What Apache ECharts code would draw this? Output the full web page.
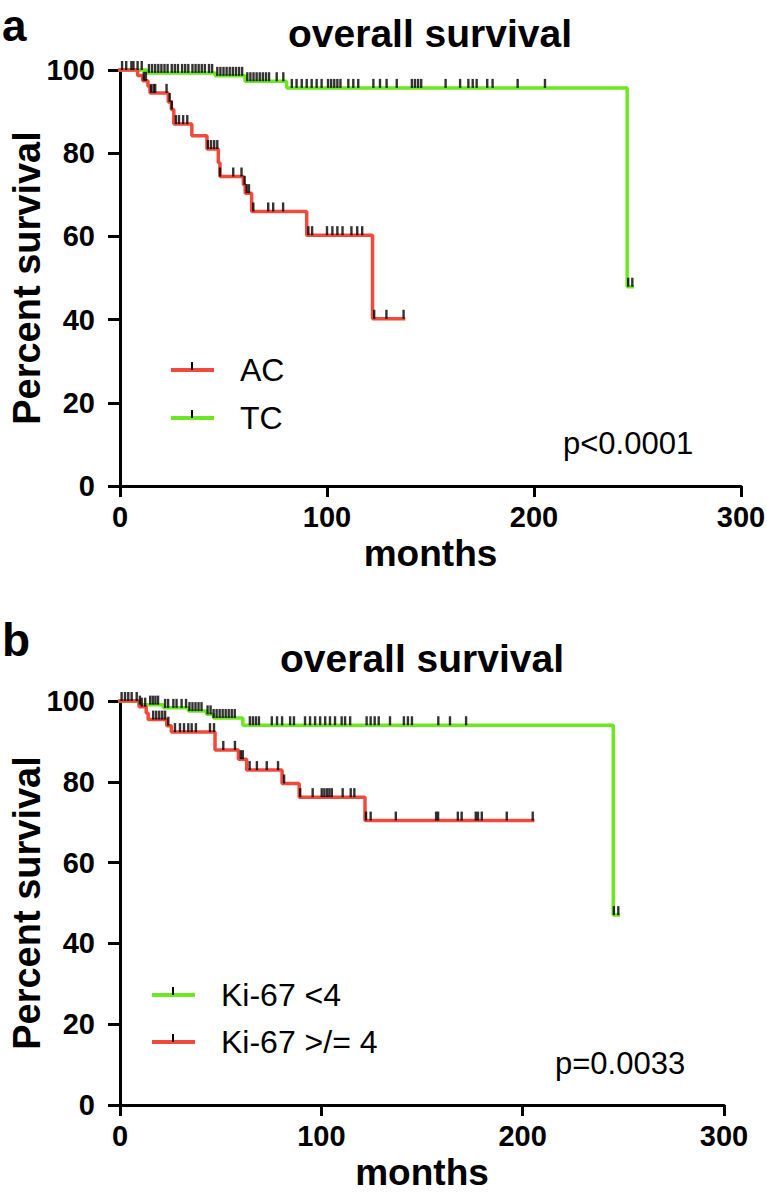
<!DOCTYPE html>
<html>
<head>
<meta charset="utf-8">
<script src="https://cdn.jsdelivr.net/npm/echarts@6/dist/echarts.min.js"></script>
<style>
html,body{margin:0;padding:0;background:#fff;}
#chart{width:767px;height:1194px;}
</style>
</head>
<body>
<div id="chart"></div>
<script>
// ---------- DATA ----------
const xTicks = [0, 100, 200, 300];
const yTicks = [0, 20, 40, 60, 80, 100];

// Panel a: AC (red)
const acTimes = [0, 8.5, 11, 13.5, 14.5, 23.3, 24.8, 26, 34.7, 42, 47.5, 48.3, 59.6, 60.5, 63.6, 90.2, 122, 137];
const acSurv  = [100, 98.7, 97.4, 96.1, 94.5, 92.3, 90.5, 87.0, 84.2, 81.0, 77.7, 74.4, 72.4, 70.4, 66.0, 60.3, 40.2, 40.2];
const acCensor = [11.5, 12.5, 15, 16.2, 17, 22.5, 24, 25, 27, 28.5, 30.5, 32.5, 42.5, 44, 45.5, 47, 48.3, 54.7, 58.7, 60.2, 61.2, 62.3, 64.4, 71.6, 74, 78.8, 91, 92.8, 100, 102.6, 105, 107.5, 111.8, 114.6, 117, 122.8, 128.7, 137];

// Panel a: TC (green)
const tcTimes = [0, 13, 46, 60.4, 80.5, 245, 247.5];
const tcSurv  = [100, 99.3, 98.6, 97.3, 95.7, 47.9, 47.9];
const tcCensor = [1, 3, 5.5, 6.5, 8.5, 10.5,
  14, 15.5, 17, 18.5, 20, 21.5, 23, 25, 26.5, 28, 30, 31.5, 33, 35, 36.5, 38, 39.5, 41, 43, 44.5,
  47, 48.5, 50, 51.5, 53, 54.5, 56, 57.5, 59,
  61.5, 63, 64.5, 66, 67.5, 69, 70.5, 72, 75.7, 78.9,
  83, 85.3, 87.8, 90.2, 92.6, 95, 97.4, 100.5, 102, 103.5, 105, 106.5,
  110.3, 112.7, 115.1, 122.4, 125.6, 128.8, 133.7, 141, 142.5, 144, 145.5,
  157.3, 164.3, 168.3, 170.4, 172.3, 177.4, 180, 192.1, 205.3, 245.5, 247.5];

// Panel b: Ki-67 <4 (green)
const kiLowTimes = [0, 9.5, 21.5, 34, 43, 46.5, 61, 245, 247.5];
const kiLowSurv  = [100, 99.1, 98.3, 97.5, 96.7, 95.8, 94.0, 47.0, 47.0];
const kiLowCensor = [0.8, 2.5, 4.1, 5.8, 8.3, 9.9, 15, 16.3, 17.6, 18.9, 22.4, 23.9,
  26.5, 28.1, 30.6, 32.8, 34.5, 36, 37.5, 39, 40.5,
  43.5, 45, 46.5, 48, 49.5, 51, 52.5, 54, 55.5, 57,
  64.5, 66, 67.5, 69, 75.4, 78, 80.5, 84.5, 86.4,
  91.9, 94.4, 96.9, 99.4, 101.9, 104.3, 106.8, 110.1, 111.8, 114.3,
  122.5, 124.5, 126.5, 128.5, 134.1, 141, 143, 145, 158.1, 163.9, 171.9, 245.3, 247.5];

// Panel b: Ki-67 >/= 4 (red)
const kiHighTimes = [0, 9.5, 13, 14, 23.2, 25.5, 47.2, 58.8, 62.9, 80.5, 89, 121.7, 205];
const kiHighSurv  = [100, 98.6, 97.0, 95.4, 93.9, 92.3, 87.9, 85.6, 82.9, 79.6, 76.2, 70.4, 70.4];
const kiHighCensor = [10.8, 12.5, 16.5, 18, 19.5, 21, 22.4, 24, 27.3, 29.8, 31.8, 33.9, 35.6, 37.7,
  44.7, 46.7, 51.3, 57.1, 60, 61, 64.4, 68, 72.9, 78.5, 81.5,
  89.5, 95.7, 100.2, 101.5, 102.8, 104, 105.2, 110.6, 114.6, 116.4,
  122.2, 124.5, 137, 157, 158, 167.8, 169.7, 176.7, 177.8, 179.7, 192.1, 205];

// ---------- STYLE ----------
const RED = '#EF4A3C';
const GREEN = '#6CE81E';
const FONT = '"Liberation Sans", Arial, sans-serif';

function survAt(times, surv, t) {
  let v = surv[0];
  for (let i = 0; i < times.length; i++) { if (times[i] <= t) v = surv[i]; }
  return v;
}
function curve(times, surv) { return times.map((t, i) => [t, surv[i]]); }
function ticks(times, surv, cens) { return cens.map(t => [t, survAt(times, surv, t)]); }

function xAxisCfg(gi) {
  return {
    gridIndex: gi, type: 'value', min: 0, max: 300, interval: 100,
    name: 'months', nameLocation: 'middle', nameGap: 52, nameMoveOverlap: false,
    nameTextStyle: { fontFamily: FONT, fontWeight: 'bold', fontSize: 37, lineHeight: 30, color: '#000' },
    axisLine: { show: true, onZero: false, lineStyle: { color: '#000', width: 3 } },
    axisTick: { show: true, length: 11, lineStyle: { color: '#000', width: 3 } },
    axisLabel: { fontFamily: FONT, fontWeight: 'bold', fontSize: 29, color: '#000', margin: 16 },
    splitLine: { show: false }
  };
}
function yAxisCfg(gi) {
  return {
    gridIndex: gi, type: 'value', min: 0, max: 100, interval: 20,
    name: 'Percent survival', nameLocation: 'middle', nameGap: 76, nameRotate: 90, nameMoveOverlap: false,
    nameTextStyle: { fontFamily: FONT, fontWeight: 'bold', fontSize: 38, lineHeight: 34, color: '#000' },
    axisLine: { show: true, lineStyle: { color: '#000', width: 3 } },
    axisTick: { show: true, length: 12, lineStyle: { color: '#000', width: 3 } },
    axisLabel: { fontFamily: FONT, fontWeight: 'bold', fontSize: 29, color: '#000', margin: 25 },
    splitLine: { show: false }
  };
}
function lineSeries(name, gi, data, color) {
  return {
    name, type: 'line', xAxisIndex: gi, yAxisIndex: gi, step: 'end', data,
    showSymbol: false, symbol: 'none', clip: false,
    lineStyle: { color, width: 3.5, cap: 'square' }, itemStyle: { color }, z: 2
  };
}
function tickSeries(name, gi, data) {
  return {
    name, type: 'scatter', xAxisIndex: gi, yAxisIndex: gi, data, clip: false,
    symbol: 'rect', symbolSize: [2.4, 9], symbolOffset: [0, -4.5],
    itemStyle: { color: '#000' }, z: 5, silent: true
  };
}

const chart = echarts.init(document.getElementById('chart'), null, { renderer: 'svg', width: 767, height: 1194 });

function txt(text, x, y, size, weight, align, lh) {
  const st = {
    text, fill: '#000', fontFamily: FONT, fontSize: size, fontWeight: weight || 'normal',
    align: align || 'left', verticalAlign: 'middle' };
  if (lh) st.lineHeight = lh;
  return { type: 'text', x, y, z: 100, style: st };
}
function legendItem(x, y, color, label) {
  return [
    { type: 'line', z: 100, shape: { x1: x, y1: y, x2: x + 43, y2: y }, style: { stroke: color, lineWidth: 4 } },
    { type: 'rect', z: 101, shape: { x: x + 20, y: y - 8, width: 2, height: 8 }, style: { fill: '#000' } },
    txt(label, x + 69, y, 32, 'normal', 'left')
  ];
}

const option = {
  animation: false,
  backgroundColor: '#fff',
  grid: [
    { left: 120, width: 621, top: 70, height: 416, containLabel: false, outerBoundsMode: 'none' },
    { left: 120, width: 604, top: 701, height: 404, containLabel: false, outerBoundsMode: 'none' }
  ],
  xAxis: [xAxisCfg(0), xAxisCfg(1)],
  yAxis: [yAxisCfg(0), yAxisCfg(1)],
  series: [
    lineSeries('TC', 0, curve(tcTimes, tcSurv), GREEN),
    lineSeries('AC', 0, curve(acTimes, acSurv), RED),
    tickSeries('TC censored', 0, ticks(tcTimes, tcSurv, tcCensor)),
    tickSeries('AC censored', 0, ticks(acTimes, acSurv, acCensor)),
    lineSeries('Ki-67 <4', 1, curve(kiLowTimes, kiLowSurv), GREEN),
    lineSeries('Ki-67 >/= 4', 1, curve(kiHighTimes, kiHighSurv), RED),
    tickSeries('Ki-67 <4 censored', 1, ticks(kiLowTimes, kiLowSurv, kiLowCensor)),
    tickSeries('Ki-67 >/= 4 censored', 1, ticks(kiHighTimes, kiHighSurv, kiHighCensor))
  ],
  graphic: [
    txt('a', 2, 25, 44, 'bold', 'left'),
    txt('overall survival', 430, 33, 39, 'bold', 'center'),
    ...legendItem(171, 370, RED, 'AC'),
    ...legendItem(171, 418, GREEN, 'TC'),
    txt('p<0.0001', 563, 443, 31, 'normal', 'left'),
    txt('b', 2, 640, 46, 'bold', 'left'),
    txt('overall survival', 422, 658, 39, 'bold', 'center'),
    ...legendItem(152, 995, GREEN, 'Ki-67 <4'),
    ...legendItem(152, 1042, RED, 'Ki-67 >/= 4'),
    txt('p=0.0033', 555, 1063, 31, 'normal', 'left')
  ]
};
chart.setOption(option);
</script>
</body>
</html>
